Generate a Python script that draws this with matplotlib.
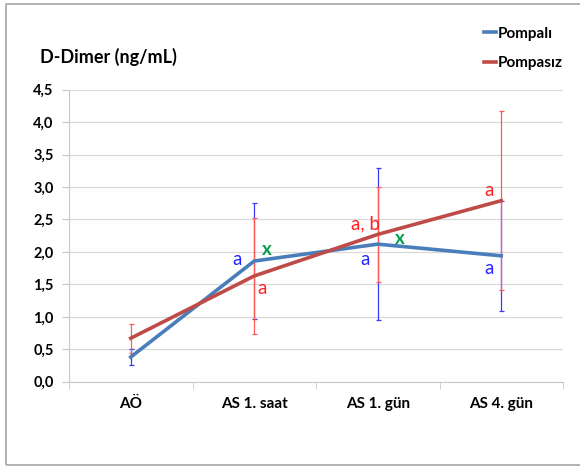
import matplotlib.pyplot as plt
from matplotlib.patches import Rectangle

categories = ['AÖ', 'AS 1. saat', 'AS 1. gün', 'AS 4. gün']
pompali = [0.38, 1.86, 2.12, 1.94]
pompali_err = [0.12, 0.89, 1.17, 0.85]
pompasiz = [0.67, 1.63, 2.27, 2.79]
pompasiz_err = [0.22, 0.90, 0.73, 1.38]
yticks = [0.0, 0.5, 1.0, 1.5, 2.0, 2.5, 3.0, 3.5, 4.0, 4.5]

# letters written on the chart: (x, y, text, colour)
notes = [
    (0.86, 1.89, 'a', '#2424ff'),
    (1.10, 2.03, 'x', '#00a04a'),
    (1.06, 1.44, 'a', '#ff2020'),
    (1.90, 2.43, 'a, b', '#ff2020'),
    (1.90, 1.89, 'a', '#2424ff'),
    (2.18, 2.21, 'x', '#00a04a'),
    (2.90, 2.95, 'a', '#ff2020'),
    (2.90, 1.75, 'a', '#2424ff'),
]

plt.rcParams['font.family'] = ['Lato', 'DejaVu Sans']

fig = plt.figure(figsize=(5.8, 4.66), dpi=100)
fig.patches.append(Rectangle((5.5 / 580, 1 / 466), 1.2, 1 - 4.5 / 466, transform=fig.transFigure,
                             fill=False, edgecolor='#a6a6a6', linewidth=1.2))
ax = fig.add_axes([69 / 580, 1 - 381.7 / 466, 494 / 580, 292 / 466])

x = list(range(len(categories)))
ax.errorbar(x, pompali, yerr=pompali_err, fmt='none', ecolor='#3a3aff', elinewidth=0.9,
            capsize=1.8, capthick=0.9, zorder=2)
ax.errorbar(x, pompasiz, yerr=pompasiz_err, fmt='none', ecolor='#ff5a5a', elinewidth=0.9,
            capsize=1.8, capthick=0.9, zorder=3)
ax.plot(x, pompali, color='#4a7ebb', linewidth=2.6, label='Pompalı', zorder=4)
ax.plot(x, pompasiz, color='#be4b48', linewidth=2.6, label='Pompasız', zorder=5)

for nx_, ny_, t, c in notes:
    ax.text(nx_, ny_, t, color=c, fontsize=13.5, ha='center', va='center',
            fontweight='bold' if t == 'x' else 'normal', zorder=6)

ax.set_xlim(-0.5, 3.5)
ax.set_ylim(0, 4.5)
ax.set_yticks(yticks)
ax.set_yticklabels([f'{v:.1f}'.replace('.', ',') for v in yticks], fontsize=10.5, fontweight='bold')
ax.set_xticks(x)
ax.set_xticklabels(categories, fontsize=11, fontweight='bold')
ax.set_xticks([-0.5, 0.5, 1.5, 2.5, 3.5], minor=True)
ax.tick_params(axis='x', which='major', length=0, pad=11)
ax.tick_params(axis='x', which='minor', length=5, color='#c8c8c8')
ax.tick_params(axis='y', length=5, color='#c8c8c8', pad=6)
ax.grid(axis='y', color='#d9d9d9', linewidth=0.9)
ax.set_axisbelow(True)
for s in ['top', 'right']:
    ax.spines[s].set_visible(False)
for s in ['left', 'bottom']:
    ax.spines[s].set_color('#c8c8c8')

fig.text(40 / 580, 1 - 57 / 466, 'D-Dimer (ng/mL)', fontsize=13, fontweight='bold', va='center')

ax.legend(loc='upper left', bbox_to_anchor=(473 / 580, 1 - 16 / 466), bbox_transform=fig.transFigure,
          frameon=False, handlelength=0.8, handletextpad=0.1, labelspacing=1.0, borderpad=0.2,
          prop={'weight': 'bold', 'size': 11})

fig.savefig('out.png', dpi=100)
